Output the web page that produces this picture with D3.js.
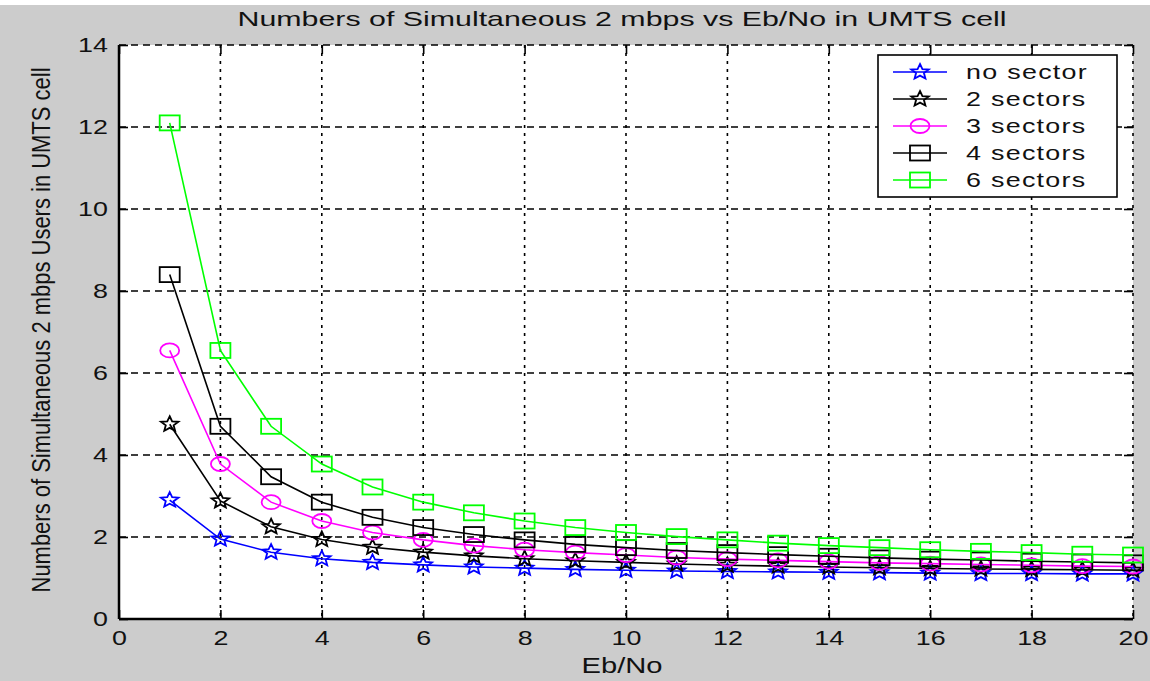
<!DOCTYPE html>
<html>
<head>
<meta charset="utf-8">
<script src="https://cdn.jsdelivr.net/npm/d3@7"></script>
<style>
  body { margin: 0; background: #cccccc; }
  svg { display: block; font-family: "Liberation Sans", Arial, sans-serif; }
</style>
</head>
<body>
<div id="chart"></div>
<script>
// Data
const ebno = [1,2,3,4,5,6,7,8,9,10,11,12,13,14,15,16,17,18,19,20];
const noSector  = [2.90,1.95,1.63,1.47,1.38,1.32,1.27,1.24,1.21,1.19,1.17,1.16,1.15,1.14,1.13,1.12,1.11,1.11,1.10,1.10];
const sectors2  = [4.75,2.88,2.25,1.94,1.75,1.63,1.54,1.47,1.42,1.38,1.34,1.31,1.29,1.27,1.25,1.23,1.22,1.21,1.20,1.19];
const sectors3  = [6.55,3.78,2.85,2.39,2.11,1.93,1.79,1.69,1.62,1.56,1.50,1.46,1.43,1.40,1.37,1.35,1.33,1.31,1.29,1.28];
const sectors4  = [8.40,4.70,3.47,2.85,2.48,2.23,2.06,1.93,1.82,1.74,1.67,1.62,1.57,1.53,1.49,1.46,1.44,1.41,1.39,1.37];
const sectors6  = [12.1,6.55,4.70,3.78,3.22,2.85,2.59,2.39,2.23,2.11,2.01,1.93,1.85,1.79,1.74,1.69,1.65,1.62,1.58,1.56];
const seriesNames = ["no sector","2 sectors","3 sectors","4 sectors","6 sectors"];
const xTicks = [0,2,4,6,8,10,12,14,16,18,20];
const yTicks = [0,2,4,6,8,10,12,14];

const series = [
  {name: seriesNames[0], values: noSector, color: "#0000ff", marker: "star"},
  {name: seriesNames[1], values: sectors2, color: "#000000", marker: "star"},
  {name: seriesNames[2], values: sectors3, color: "#ff00ff", marker: "circle"},
  {name: seriesNames[3], values: sectors4, color: "#000000", marker: "square"},
  {name: seriesNames[4], values: sectors6, color: "#00ff00", marker: "square"},
];

const W = 1150, H = 681;
const margin = { top: 45, right: 17, bottom: 62, left: 119 };
const width = W - margin.left - margin.right;
const height = H - margin.top - margin.bottom;
const sx = 1.28;   // the picture is stretched sideways
const ink = "#111";

const x = d3.scaleLinear().domain([0, 20]).range([0, width]);
const y = d3.scaleLinear().domain([0, 14]).range([height, 0]);

const svg = d3.select("#chart").append("svg")
    .attr("width", W).attr("height", H);
svg.append("rect").attr("width", W).attr("height", H).attr("fill", "#cccccc");
svg.append("rect").attr("width", W).attr("height", 5).attr("fill", "#ffffff");

const g = svg.append("g").attr("transform", `translate(${margin.left},${margin.top})`);
g.append("rect").attr("width", width).attr("height", height).attr("fill", "#ffffff");

// grid
g.append("g").selectAll("line").data(xTicks.slice(1)).join("line")
    .attr("x1", d => x(d)).attr("x2", d => x(d))
    .attr("y1", 0).attr("y2", height)
    .attr("stroke", "#000").attr("stroke-width", 1.6)
    .attr("stroke-dasharray", "3,5");
g.append("g").selectAll("line").data(yTicks.slice(1)).join("line")
    .attr("x1", 0).attr("x2", width)
    .attr("y1", d => y(d)).attr("y2", d => y(d))
    .attr("stroke", "#000").attr("stroke-width", 1.6)
    .attr("stroke-dasharray", "7,5");

// axes (MATLAB-style inward ticks)
const tl = 9;
g.append("g").attr("transform", `translate(0,${height})`)
    .call(d3.axisBottom(x).tickValues(xTicks).tickSize(-tl).tickPadding(0))
    .call(a => a.select(".domain").remove())
    .call(a => a.selectAll(".tick text").attr("y", 26).attr("dy", null)
        .attr("transform", `scale(${sx},1)`));
g.append("g")
    .call(d3.axisLeft(y).tickValues(yTicks).tickSize(-tl).tickPadding(0))
    .call(a => a.select(".domain").remove())
    .call(a => a.selectAll(".tick text").attr("x", -11 / sx)
        .attr("transform", `scale(${sx},1)`));
g.append("g").call(d3.axisTop(x).tickValues(xTicks).tickSize(-tl).tickFormat(""))
    .call(a => a.select(".domain").remove());
g.append("g").attr("transform", `translate(${width},0)`)
    .call(d3.axisRight(y).tickValues(yTicks).tickSize(-tl).tickFormat(""))
    .call(a => a.select(".domain").remove());
g.selectAll(".tick line").attr("stroke", "#000").attr("stroke-width", 1.6);
g.selectAll(".tick text").attr("font-size", 21).attr("fill", ink)
    .attr("font-family", "'Liberation Sans', Arial, sans-serif");

g.append("line").attr("x1", 0).attr("x2", 0).attr("y1", 0).attr("y2", height)
    .attr("stroke", "#000").attr("stroke-width", 2.5);
g.append("line").attr("x1", 0).attr("x2", width).attr("y1", height).attr("y2", height)
    .attr("stroke", "#000").attr("stroke-width", 2.5);

// markers
const starPath = (() => {
  const pts = [];
  for (let i = 0; i < 10; i++) {
    const r = i % 2 === 0 ? 8 : 3.6;
    const a = -Math.PI / 2 + i * Math.PI / 5;
    pts.push([r * Math.cos(a) * 1.15, r * Math.sin(a)]);
  }
  return "M" + pts.map(p => p.join(",")).join("L") + "Z";
})();

function drawMarker(sel, marker, color) {
  if (marker === "star") {
    sel.append("path").attr("d", starPath);
  } else if (marker === "circle") {
    sel.append("ellipse").attr("rx", 9.5).attr("ry", 7);
  } else {
    sel.append("rect").attr("x", -10).attr("y", -7.5).attr("width", 20).attr("height", 15);
  }
  sel.selectAll("path,ellipse,rect").attr("fill", "none").attr("stroke", color).attr("stroke-width", 1.8);
}

const line = d3.line().x((d, i) => x(ebno[i])).y(d => y(d));

series.forEach(s => {
  const sg = g.append("g");
  sg.append("path").attr("d", line(s.values))
      .attr("fill", "none").attr("stroke", s.color).attr("stroke-width", 1.6);
  sg.selectAll("g.m").data(s.values).join("g").attr("class", "m")
      .attr("transform", (d, i) => `translate(${x(ebno[i])},${y(d)})`)
      .each(function() { drawMarker(d3.select(this), s.marker, s.color); });
});

// legend
const lg = svg.append("g").attr("transform", "translate(878,55)");
lg.append("rect").attr("width", 239).attr("height", 142)
    .attr("fill", "#fff").attr("stroke", "#000").attr("stroke-width", 1.6);
series.forEach((s, i) => {
  const row = lg.append("g").attr("transform", `translate(0,${17 + i * 27})`);
  row.append("line").attr("x1", 15).attr("x2", 69).attr("stroke", s.color).attr("stroke-width", 1.6);
  const m = row.append("g").attr("transform", "translate(42,0)");
  drawMarker(m, s.marker, s.color);
  row.append("text").attr("transform", `translate(88,7) scale(${sx},1)`)
      .attr("font-size", 21).attr("fill", ink)
      .attr("letter-spacing", 1).text(s.name);
});

// titles
svg.append("text").attr("x", 622).attr("y", 26)
    .attr("text-anchor", "middle").attr("font-size", 21).attr("fill", ink)
    .attr("textLength", 769).attr("lengthAdjust", "spacingAndGlyphs")
    .text("Numbers of Simultaneous 2 mbps vs Eb/No in UMTS cell");
svg.append("text").attr("x", 622).attr("y", 673)
    .attr("text-anchor", "middle").attr("font-size", 22).attr("fill", ink)
    .attr("textLength", 81).attr("lengthAdjust", "spacingAndGlyphs")
    .text("Eb/No");
svg.append("text").attr("transform", `translate(50,330) scale(${sx},1) rotate(-90)`)
    .attr("text-anchor", "middle").attr("font-size", 20).attr("fill", ink)
    .attr("textLength", 525).attr("lengthAdjust", "spacingAndGlyphs")
    .text("Numbers of Simultaneous 2 mbps Users in UMTS cell");
</script>
</body>
</html>
